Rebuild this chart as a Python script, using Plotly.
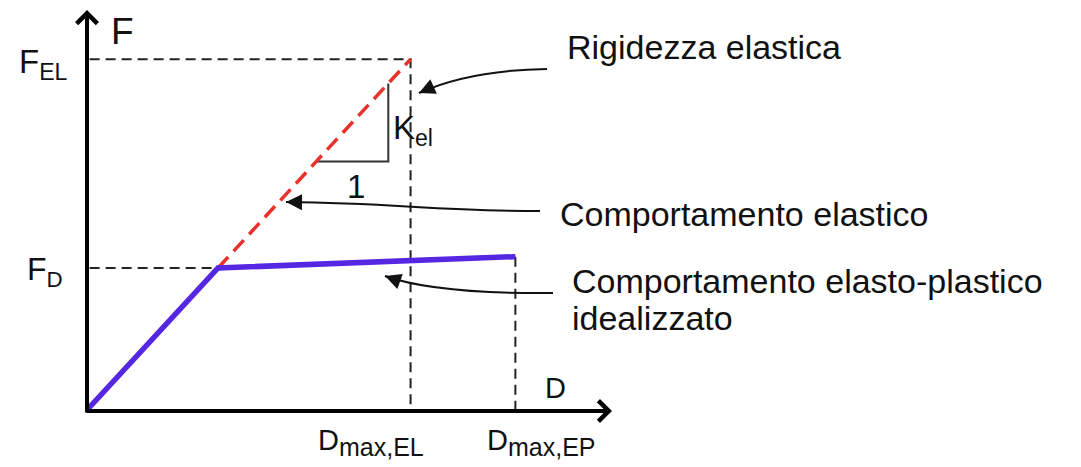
import plotly.graph_objects as go

# ---- data (normalised units: yield point = (1, 1)) ----
D_Y = 1.0          # yield displacement
F_D = 1.0          # design (yield) force
D_MAX_EL = 2.47    # max displacement, elastic system
F_EL = 2.47        # elastic force demand
D_MAX_EP = 3.27    # max displacement, elasto-plastic system
F_END = 1.08       # force at end of hardening branch

ep_D = [0.0, D_Y, D_MAX_EP]
ep_F = [0.0, F_D, F_END]
el_D = [D_Y, D_MAX_EL]
el_F = [F_D, F_EL]
TRI_START = 1.75   # where the stiffness triangle starts on the elastic line
TRI_RUN = 0.55     # horizontal run of the stiffness triangle
K_EL = F_D / D_Y

# ---- layout mapping (pixel geometry of the picture) ----
W, H = 1081, 467
X0PX, SX = 87, 131
Y0PX, SY = 410, 142


def px(x):
    return (x - X0PX) / SX


def py(y):
    return (Y0PX - y) / SY


FONT = "Liberation Sans, Arial, Helvetica, sans-serif"
BLACK = "#111111"
GUIDE = dict(color="#222", width=2, dash="10px,6px")

fig = go.Figure()

# guide lines (dashed)
fig.add_trace(go.Scatter(x=[0.02, D_MAX_EL, D_MAX_EL], y=[F_EL, F_EL, 0],
                         mode="lines", line=GUIDE, hoverinfo="skip"))
fig.add_trace(go.Scatter(x=[0.02, D_Y], y=[F_D, F_D],
                         mode="lines", line=GUIDE, hoverinfo="skip"))
fig.add_trace(go.Scatter(x=[D_MAX_EP, D_MAX_EP], y=[F_END, 0],
                         mode="lines", line=GUIDE, hoverinfo="skip"))

# stiffness triangle
tri_x = [TRI_START, TRI_START + TRI_RUN, TRI_START + TRI_RUN]
tri_y = [K_EL * TRI_START, K_EL * TRI_START, K_EL * (TRI_START + TRI_RUN)]
fig.add_trace(go.Scatter(x=tri_x, y=tri_y, mode="lines",
                         line=dict(color="#333", width=2), hoverinfo="skip"))

# elastic behaviour (red dashed)
fig.add_trace(go.Scatter(x=el_D, y=el_F, mode="lines",
                         line=dict(color="#E8312B", width=3.5, dash="15px,8px"),
                         hoverinfo="skip"))
# elasto-plastic behaviour (blue)
fig.add_trace(go.Scatter(x=ep_D, y=ep_F, mode="lines",
                         line=dict(color="#5527E2", width=5.5), hoverinfo="skip"))

ann = []
# axes arrows
ann.append(dict(x=0, y=py(10), ax=0, ay=py(414), xref="x", yref="y", axref="x", ayref="y",
                showarrow=True, arrowhead=4, arrowwidth=4, arrowsize=1, arrowcolor="black", text=""))
ann.append(dict(x=px(612), y=py(411), ax=px(85), ay=py(411), xref="x", yref="y", axref="x", ayref="y",
                showarrow=True, arrowhead=4, arrowwidth=4, arrowsize=1, arrowcolor="black", text=""))

# curved pointer arrows
shapes = []
curves = [
    ((547, 69), "Q", [(470, 70)], (419, 93)),
    ((540, 211), "C", [(430, 211), (400, 203)], (286, 202)),
    ((553, 293), "Q", [(435, 294)], (385, 276)),
]
for tail, cmd, ctrls, head in curves:
    pts = " ".join(f"{px(cx)},{py(cy)}" for cx, cy in ctrls)
    path = f"M {px(tail[0])},{py(tail[1])} {cmd} {pts} {px(head[0])},{py(head[1])}"
    shapes.append(dict(type="path", path=path, xref="x", yref="y",
                       line=dict(color=BLACK, width=2)))
    lc = ctrls[-1]
    dx, dy = lc[0] - head[0], lc[1] - head[1]
    n = (dx * dx + dy * dy) ** 0.5
    ann.append(dict(x=px(head[0]), y=py(head[1]), ax=dx / n * 14, ay=dy / n * 14,
                    xref="x", yref="y", showarrow=True, arrowhead=2, arrowwidth=2,
                    arrowsize=1.6, arrowcolor=BLACK, text=""))


def label(text, x, y, size, xanchor="left", yanchor="middle"):
    ann.append(dict(text=text, x=x, y=y, xref="x", yref="y", showarrow=False,
                    xanchor=xanchor, yanchor=yanchor,
                    font=dict(family=FONT, size=size, color=BLACK)))


label("Rigidezza elastica", px(565), py(47), 34)
label("Comportamento elastico", px(558), py(214), 34)
label("Comportamento elasto-plastico", px(570), py(281), 34)
label("idealizzato", px(570), py(318), 34)

label("F", px(109), py(31), 37)
label("F<sub>EL</sub>", px(70), py(64), 33, xanchor="right")
label("F<sub>D</sub>", px(65), py(271), 32, xanchor="right")
label("D", px(543), py(388), 29)
label("D<sub><span style='font-size:25px'>max,EL</span></sub>", px(316), py(442), 29)
label("D<sub><span style='font-size:25px'>max,EP</span></sub>", px(485), py(442), 29)
label("K<sub>el</sub>", px(391), py(130), 33)
label("1", px(345), py(186), 33)

fig.update_layout(
    width=W, height=H, margin=dict(l=0, r=0, t=0, b=0),
    paper_bgcolor="white", plot_bgcolor="white", showlegend=False,
    xaxis=dict(range=[-X0PX / SX, (W - X0PX) / SX], visible=False, fixedrange=True),
    yaxis=dict(range=[-(H - Y0PX) / SY, Y0PX / SY], visible=False, fixedrange=True),
    annotations=ann, shapes=shapes,
)

fig.write_html("out.html", config={"displayModeBar": False},
               post_script="document.body.style.margin='0';document.body.style.overflow='hidden';")
